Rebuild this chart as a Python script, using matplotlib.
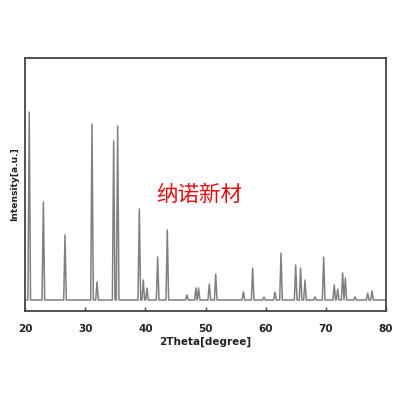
import matplotlib.pyplot as plt
import numpy as np

# peak positions (2theta, degree) and heights (arbitrary units)
peak_pos = [20.7, 23.05, 26.65, 31.14, 31.97, 34.74, 35.4, 39.0, 39.66, 40.28,
            42.05, 43.65, 46.9, 48.4, 48.85, 50.63, 51.7, 56.3, 57.84, 59.72,
            61.55, 62.55, 64.99, 65.8, 66.54, 68.2, 69.64, 71.4, 71.97, 72.8,
            73.24, 74.85, 76.96, 77.67]
peak_height = [199, 109, 76, 187, 29, 170, 185, 102, 31, 23,
               54, 81, 16, 23, 23, 27, 37, 19, 43, 14,
               19, 58, 46, 43, 31, 14, 54, 26, 22, 38,
               33, 14, 18, 20]
baseline = 11
x_range = (20, 80)

# trace: baseline with a sharp vertex at each peak
hw = 0.22
xs = [x_range[0]]
ys = [baseline]
for p, h in zip(peak_pos, peak_height):
    xs += [p - hw, p, p + hw]
    ys += [baseline, h, baseline]
xs.append(x_range[1])
ys.append(baseline)

fig = plt.figure(figsize=(3.99, 4.0), dpi=100)
ax = fig.add_axes([25 / 399, 1 - 311 / 400, 361 / 399, 253 / 400])
ax.plot(xs, ys, color="#808080", linewidth=1.1)

ax.set_xlim(*x_range)
ax.set_ylim(0, 253)
ax.set_xticks(np.arange(20, 81, 10))
ax.set_yticks([])
ax.tick_params(axis="x", direction="in", length=3, width=1, color="#444444",
               labelsize=7.5, pad=9)
for lab in ax.get_xticklabels():
    lab.set_fontweight("bold")
    lab.set_color("#222222")
for s in ax.spines.values():
    s.set_color("#444444")
    s.set_linewidth(1.3)

ax.set_xlabel("2Theta[degree]", fontsize=7.5, fontweight="bold", color="#222222", labelpad=2)
ax.set_ylabel("Intensity[a.u.]", fontsize=6.6, fontweight="bold", color="#222222", labelpad=4)

ax.text(0.482, 0.458, "纳诺新材", transform=ax.transAxes, ha="center", va="center",
        fontsize=15.5, color="#e01010", family=["Noto Sans CJK SC", "DejaVu Sans"])

plt.savefig("out.png", dpi=100)
